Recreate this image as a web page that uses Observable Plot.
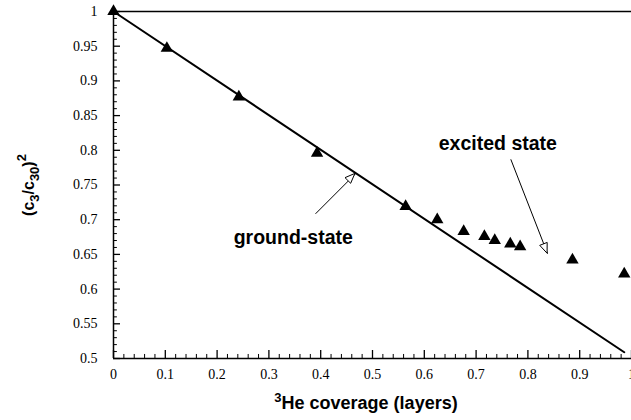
<!DOCTYPE html>
<html><head><meta charset="utf-8">
<script src="https://cdn.jsdelivr.net/npm/d3@7"></script>
<script src="https://cdn.jsdelivr.net/npm/@observablehq/plot@0.6"></script>
<style>body{margin:0;background:#fff;} #chart svg{display:block}</style>
</head><body><div id="chart"></div>
<script>
// measured data (3He coverage vs (c3/c30)^2)
const coverage = [0, 0.103, 0.242, 0.393, 0.564, 0.625, 0.676, 0.716, 0.736, 0.766, 0.785, 0.886, 0.986];
const ratio    = [1.0, 0.947, 0.877, 0.796, 0.719, 0.700, 0.683, 0.676, 0.670, 0.665, 0.661, 0.642, 0.622];
// ground-state line
const fitX = [0, 0.986];
const fitY = [1.0, 0.509];
// axes
const xTicks = [0, 0.1, 0.2, 0.3, 0.4, 0.5, 0.6, 0.7, 0.8, 0.9, 1];
const xTickLabels = ["0", "0.1", "0.2", "0.3", "0.4", "0.5", "0.6", "0.7", "0.8", "0.9", "1"];
const yTicks = [0.5, 0.55, 0.6, 0.65, 0.7, 0.75, 0.8, 0.85, 0.9, 0.95, 1];
const yTickLabels = ["0.5", "0.55", "0.6", "0.65", "0.7", "0.75", "0.8", "0.85", "0.9", "0.95", "1"];
const xMinor = d3.range(0, 1.0001, 0.02).filter(v => Math.abs(v * 10 - Math.round(v * 10)) > 1e-6);
const yMinor = d3.range(0.5, 1.0001, 0.01).filter(v => Math.abs(v * 20 - Math.round(v * 20)) > 1e-6);
// annotations
const annText = ["excited state", "ground-state"];
const annX = [0.742, 0.347];
const annY = [0.810, 0.674];
const arrX1 = [0.767, 0.390];
const arrY1 = [0.787, 0.7085];
const arrX2 = [0.838, 0.467];
const arrY2 = [0.651, 0.766];

const points = coverage.map((c, i) => ({x: c, y: ratio[i]}));
const fit = fitX.map((v, i) => ({x: v, y: fitY[i]}));
const ann = annText.map((t, i) => ({t, x: annX[i], y: annY[i]}));
const arrows = arrX1.map((v, i) => ({x1: v, y1: arrY1[i], x2: arrX2[i], y2: arrY2[i]}));

const serif = "Liberation Serif, serif";
const sans = "Liberation Sans, sans-serif";

const plot = Plot.plot({
  width: 631, height: 420,
  marginLeft: 113, marginRight: 0, marginTop: 11, marginBottom: 62,
  x: {domain: [0, 1]},
  y: {domain: [0.5, 1]},
  style: {background: "white", color: "black", fontSize: "14px"},
  marks: [
    Plot.axisX(xTicks, {tickSize: 0, tickPadding: 11, tickFormat: (d) => xTickLabels[xTicks.indexOf(d)], fontFamily: serif, fontSize: 14, label: null}),
    Plot.axisY(yTicks, {tickSize: 0, tickPadding: 16, tickFormat: (d) => yTickLabels[yTicks.indexOf(d)], fontFamily: serif, fontSize: 14, label: null}),
    Plot.ruleY(yTicks, {x1: 0, x2: 0.0135, stroke: "black", strokeWidth: 1.3}),
    Plot.ruleY(yMinor, {x1: 0, x2: 0.0075, stroke: "black", strokeWidth: 1}),
    Plot.ruleX(xTicks, {y1: 0.5, y2: 0.5115, stroke: "black", strokeWidth: 1.3}),
    Plot.ruleX(xMinor, {y1: 0.5, y2: 0.5058, stroke: "black", strokeWidth: 1}),
    Plot.ruleX([0], {stroke: "black", strokeWidth: 1.5}),
    Plot.ruleY([0.5], {stroke: "black", strokeWidth: 1.5}),
    Plot.ruleY([1], {stroke: "black", strokeWidth: 1.5}),
    Plot.line(fit, {x: "x", y: "y", stroke: "black", strokeWidth: 2}),
    Plot.dot(points, {x: "x", y: "y", symbol: "triangle", r: 4.6, fill: "black", stroke: "none"}),
    Plot.link(arrows, {x1: "x1", y1: "y1", x2: "x2", y2: "y2", stroke: "black", strokeWidth: 1}),
    Plot.text(ann, {x: "x", y: "y", text: "t", fontFamily: sans, fontWeight: "bold", fontSize: 19.5, fill: "black"})
  ]
});

const svg = d3.select(plot);
const sx = plot.scale("x"), sy = plot.scale("y");
// open arrowheads
arrows.forEach(a => {
  const x1 = sx.apply(a.x1), y1 = sy.apply(a.y1), x2 = sx.apply(a.x2), y2 = sy.apply(a.y2);
  const L = Math.hypot(x2 - x1, y2 - y1), ux = (x2 - x1) / L, uy = (y2 - y1) / L;
  const hl = 10, hw = 4;
  const bx = x2 - ux * hl, by = y2 - uy * hl;
  const pts = [[x2, y2], [bx - uy * hw, by + ux * hw], [bx + uy * hw, by - ux * hw]];
  svg.append("polygon").attr("points", pts.map(p => p.join(",")).join(" "))
    .attr("fill", "white").attr("stroke", "black").attr("stroke-width", 1);
});
// x axis title with leading superscript
const xt = svg.append("text").attr("x", 366).attr("y", 409).attr("text-anchor", "middle")
  .attr("font-family", sans).attr("font-weight", "bold").attr("font-size", 18).attr("fill", "black");
xt.append("tspan").attr("font-size", 13).attr("dy", -7).text("3");
xt.append("tspan").attr("dy", 7).text("He coverage (layers)");
// y axis title
const yt = svg.append("text").attr("transform", "translate(34,185) rotate(-90)").attr("text-anchor", "middle")
  .attr("font-family", sans).attr("font-weight", "bold").attr("font-size", 16).attr("fill", "black");
yt.append("tspan").text("(c");
yt.append("tspan").attr("font-size", 13).attr("dy", 5).text("3");
yt.append("tspan").attr("dy", -5).text("/c");
yt.append("tspan").attr("font-size", 13).attr("dy", 5).text("30");
yt.append("tspan").attr("dy", -5).text(")");
yt.append("tspan").attr("font-size", 13).attr("dy", -8).text("2");

document.getElementById("chart").appendChild(plot);
</script>
</body></html>
